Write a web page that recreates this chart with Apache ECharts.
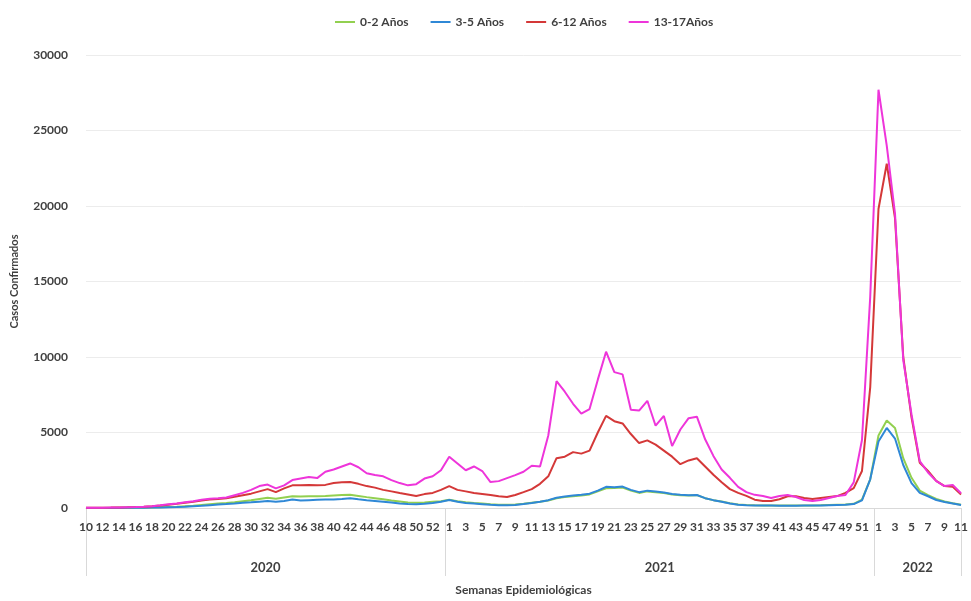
<!DOCTYPE html>
<html>
<head>
<meta charset="utf-8">
<script src="https://cdn.jsdelivr.net/npm/echarts@6/dist/echarts.min.js"></script>
<style>
  html, body { margin: 0; padding: 0; background: #fff; }
  #chart { width: 971px; height: 601px; }
</style>
</head>
<body>
<div id="chart"></div>
<script>
// semanas epidemiologicas: 2020 (10-53), 2021 (1-52), 2022 (1-11)
var years = ['2020', '2021', '2022'];
var weekRanges = [[10, 53], [1, 52], [1, 11]];

var g0_2 = [0,0,5,5,10,10,15,20,30,50,70,90,120,150,200,250,300,330,380,450,520,600,680,620,700,780,760,770,780,800,
  830,860,870,800,720,650,580,500,430,360,340,370,420,450,550,450,380,330,290,250,220,210,230,280,350,420,500,650,720,780,
  830,900,1100,1300,1320,1350,1150,1000,1100,1050,1000,900,850,830,850,650,520,430,320,230,200,180,170,170,160,160,160,170,170,180,
  200,220,230,280,550,1900,4800,5800,5300,3300,2000,1150,850,600,430,320,220];
var g3_5 = [0,0,5,5,8,10,12,15,25,40,55,70,90,120,150,190,230,260,300,350,380,420,460,420,470,560,500,520,540,560,
  560,600,650,580,520,470,420,360,300,260,250,280,330,420,530,420,330,290,250,210,190,180,200,260,330,420,520,680,760,820,
  880,950,1150,1400,1380,1420,1200,1050,1150,1100,1020,920,880,850,860,650,520,420,300,220,190,170,160,160,150,150,150,160,160,170,
  190,200,210,260,500,1900,4400,5300,4600,2850,1650,1000,780,530,400,300,200];
var g6_12 = [10,15,20,25,35,45,60,80,110,160,220,280,350,420,500,560,600,650,750,850,950,1100,1250,1050,1300,1500,1500,1520,1500,1530,
  1650,1700,1720,1600,1450,1350,1200,1100,990,900,800,920,1000,1200,1450,1200,1100,1000,930,860,780,730,860,1050,1250,1600,2100,3300,3400,3700,
  3600,3800,5000,6100,5750,5600,4900,4300,4480,4200,3800,3400,2900,3150,3300,2750,2200,1700,1250,1000,800,550,460,460,580,780,780,660,590,660,
  730,790,1000,1320,2450,8000,19800,22800,19200,10000,6000,3000,2450,1800,1450,1400,900];
var g13_17 = [10,20,20,30,40,50,60,80,120,180,250,300,380,450,550,620,650,700,850,1000,1200,1450,1550,1300,1500,1850,1950,2050,1980,2400,
  2550,2750,2950,2700,2300,2180,2100,1850,1650,1500,1580,1950,2100,2500,3400,2950,2500,2750,2450,1720,1780,1980,2180,2400,2800,2750,4800,8400,7700,6900,
  6250,6550,8500,10350,9000,8850,6500,6450,7100,5450,6100,4100,5200,5950,6050,4550,3450,2550,2000,1400,1050,870,790,660,790,860,730,530,460,530,
  660,790,860,1700,4500,14000,27700,24000,19500,9800,6200,3100,2350,1780,1450,1520,980];

var seriesNames = ['0-2 Años', '3-5 Años', '6-12 Años', '13-17Años'];
var seriesColors = ['#92d050', '#2f88d6', '#d43838', '#ee35da'];

// categorias "año|semana"
var categories = [];
var yearStart = [];
years.forEach(function (y, k) {
  yearStart.push(categories.length);
  for (var w = weekRanges[k][0]; w <= weekRanges[k][1]; w++) categories.push(y + '|' + w);
});
var n = categories.length;
// limites y centros de cada año en la escala de indices
var yearBounds = [0];
for (var k = 1; k < years.length; k++) yearBounds.push(yearStart[k] - 0.5);
yearBounds.push(n - 1);
var yearCenters = [];
for (var k = 0; k < years.length; k++) yearCenters.push((yearBounds[k] + yearBounds[k + 1]) / 2);

var txt = '#404040';
var font = 'Lato, "Open Sans", sans-serif';

var myChart = echarts.init(document.getElementById('chart'));
var option = {
  animation: false,
  legend: {
    top: 11,
    left: 330,
    itemWidth: 20,
    itemHeight: 2,
    itemGap: 22,
    icon: 'rect',
    textStyle: { color: txt, fontSize: 12, fontWeight: 'bold', fontFamily: font },
    data: seriesNames
  },
  grid: { left: 86, right: 9, top: 55, bottom: 91 },
  xAxis: [{
    type: 'category',
    data: categories,
    boundaryGap: false,
    axisLine: { lineStyle: { color: '#d9d9d9' } },
    axisTick: { show: false },
    axisLabel: {
      interval: 1,
      margin: 13,
      color: txt,
      fontSize: 12,
      fontWeight: 'bold',
      fontFamily: font,
      formatter: function (v) { return v.split('|')[1]; }
    },
    name: 'Semanas Epidemiológicas',
    nameLocation: 'middle',
    nameGap: 76,
    nameTextStyle: { color: txt, fontSize: 12, fontWeight: 'bold', fontFamily: font }
  }, {
    type: 'value',
    min: 0,
    max: n - 1,
    position: 'bottom',
    axisLine: { show: false },
    splitLine: { show: false },
    axisTick: {
      show: true,
      length: 68,
      customValues: yearBounds,
      lineStyle: { color: '#d9d9d9' }
    },
    axisLabel: {
      margin: 53,
      color: txt,
      fontSize: 13,
      fontWeight: 'bold',
      fontFamily: font,
      customValues: yearCenters,
      formatter: function (v) {
        for (var k = 0; k < years.length; k++) if (v === yearCenters[k]) return years[k];
        return '';
      }
    }
  }],
  yAxis: {
    type: 'value',
    min: 0,
    max: 30000,
    interval: 5000,
    axisLine: { show: false },
    axisTick: { show: false },
    splitLine: { lineStyle: { color: '#ececec' } },
    axisLabel: {
      margin: 18, color: txt, fontSize: 12, fontWeight: 'bold', fontFamily: font,
      formatter: function (v) { return String(v); }
    },
    name: 'Casos Confirmados',
    nameLocation: 'middle',
    nameGap: 66,
    nameTextStyle: { color: txt, fontSize: 11, fontWeight: 'bold', fontFamily: font }
  },
  series: [g0_2, g3_5, g6_12, g13_17].map(function (d, i) {
    return {
      name: seriesNames[i],
      type: 'line',
      data: d,
      showSymbol: false,
      symbol: 'none',
      lineStyle: { width: 2, color: seriesColors[i] },
      itemStyle: { color: seriesColors[i] }
    };
  })
};
myChart.setOption(option);
</script>
</body>
</html>
